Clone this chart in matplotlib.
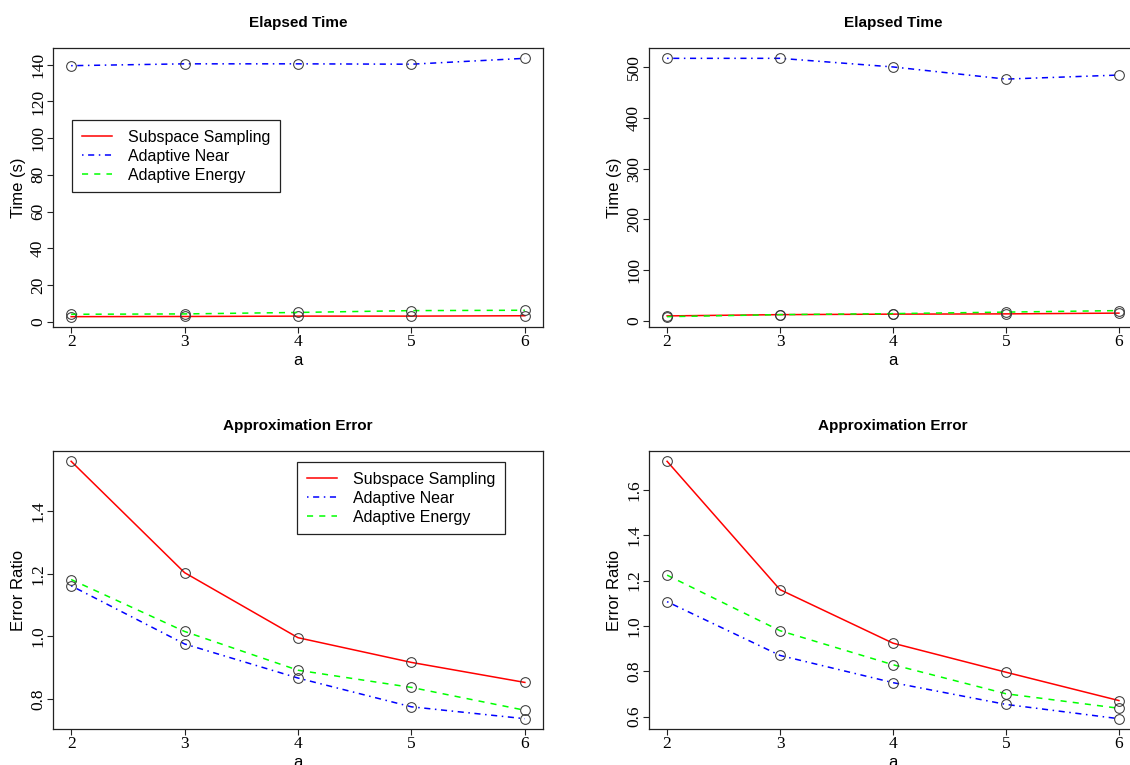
import matplotlib
matplotlib.use("Agg")
import matplotlib.pyplot as plt

# x values shared by all panels
a_vals = [2, 3, 4, 5, 6]

# top-left: elapsed time
time1_subspace = [2.7, 2.8, 3.0, 3.0, 3.2]
time1_near = [139.5, 140.5, 140.5, 140.3, 143.5]
time1_energy = [4.0, 4.2, 5.0, 6.0, 6.2]

# top-right: elapsed time
time2_subspace = [9.5, 12.0, 13.0, 13.5, 15.0]
time2_near = [518, 518, 501, 477, 485]
time2_energy = [8.0, 12.0, 14.0, 17.0, 20.0]

# bottom-left: approximation error
err1_subspace = [1.560, 1.204, 0.996, 0.917, 0.853]
err1_near = [1.162, 0.976, 0.867, 0.775, 0.737]
err1_energy = [1.182, 1.016, 0.892, 0.837, 0.764]

# bottom-right: approximation error
err2_subspace = [1.726, 1.160, 0.924, 0.796, 0.671]
err2_near = [1.107, 0.870, 0.750, 0.654, 0.591]
err2_energy = [1.224, 0.979, 0.829, 0.701, 0.637]

labels = ["Subspace Sampling", "Adaptive Near", "Adaptive Energy"]
y_ticks_time1 = [0, 20, 40, 60, 80, 100, 120, 140]
y_ticks_time2 = [0, 100, 200, 300, 400, 500]
y_ticks_err1 = [0.8, 1.0, 1.2, 1.4]
y_ticks_err2 = [0.6, 0.8, 1.0, 1.2, 1.4, 1.6]

SANS = "Liberation Sans"
SERIF = "Liberation Serif"

fig = plt.figure(figsize=(11.3, 7.65), dpi=100)
W, H = 1130, 765


def make_axes(left, right, top, bottom):
    return fig.add_axes([left / W, 1 - bottom / H, (right - left) / W, (bottom - top) / H])


def tick_text(t):
    if isinstance(t, float):
        return "%.1f" % t
    return str(t)


def draw_panel(ax, sub, near, energy, yticks, title, ylabel, legend_anchor=None, legend_loc=None):
    styles = [
        (sub, "#FF0000", None),
        (near, "#0000FF", (1, 3, 4, 3)),
        (energy, "#00FF00", (4, 4)),
    ]
    handles = []
    for vals, col, dash in styles:
        if dash is None:
            ln, = ax.plot(a_vals, vals, color=col, lw=1.1)
        else:
            ln, = ax.plot(a_vals, vals, color=col, lw=1.1, dashes=dash)
        handles.append(ln)
        ax.plot(a_vals, vals, ls="none", marker="o", ms=7, mfc="none",
                mec="#3a3a3a", mew=0.75)
    ax.margins(x=0.04, y=0.04)
    ax.set_xticks(a_vals)
    ax.set_yticks(yticks)
    ax.set_yticklabels([tick_text(t) for t in yticks], rotation=90, va="center",
                       family=SERIF, fontsize=12.5)
    ax.set_xticklabels([str(v) for v in a_vals], family=SERIF, fontsize=12.5)
    ax.tick_params(direction="out", length=4.5, width=0.8, color="#222222", pad=0.5)
    for s in ax.spines.values():
        s.set_linewidth(0.9)
        s.set_color("#222222")
    ax.set_xlabel("a", family=SANS, fontsize=12, labelpad=2)
    ax.set_ylabel(ylabel, family=SANS, fontsize=12, labelpad=3)
    ax.set_title(title, family=SANS, fontsize=11, fontweight="bold", pad=15)
    if legend_anchor is not None:
        leg = ax.legend(handles, labels, loc=legend_loc, bbox_to_anchor=legend_anchor,
                        borderaxespad=0, fancybox=False, framealpha=1, edgecolor="#222222",
                        prop={"family": SANS, "size": 11.5}, handlelength=1.9,
                        handletextpad=1.0, labelspacing=0.25, borderpad=0.6)
        leg.get_frame().set_linewidth(0.9)


ax1 = make_axes(53, 543, 48, 327)
draw_panel(ax1, time1_subspace, time1_near, time1_energy, y_ticks_time1,
           "Elapsed Time", "Time (s)", (0.039, 0.742), "upper left")

ax2 = make_axes(649, 1137, 48, 327)
draw_panel(ax2, time2_subspace, time2_near, time2_energy, y_ticks_time2,
           "Elapsed Time", "Time (s)")

ax3 = make_axes(53, 543, 451, 729)
draw_panel(ax3, err1_subspace, err1_near, err1_energy, y_ticks_err1,
           "Approximation Error", "Error Ratio", (0.922, 0.96), "upper right")

ax4 = make_axes(649, 1137, 451, 729)
draw_panel(ax4, err2_subspace, err2_near, err2_energy, y_ticks_err2,
           "Approximation Error", "Error Ratio")

fig.savefig("out.png", dpi=100)
